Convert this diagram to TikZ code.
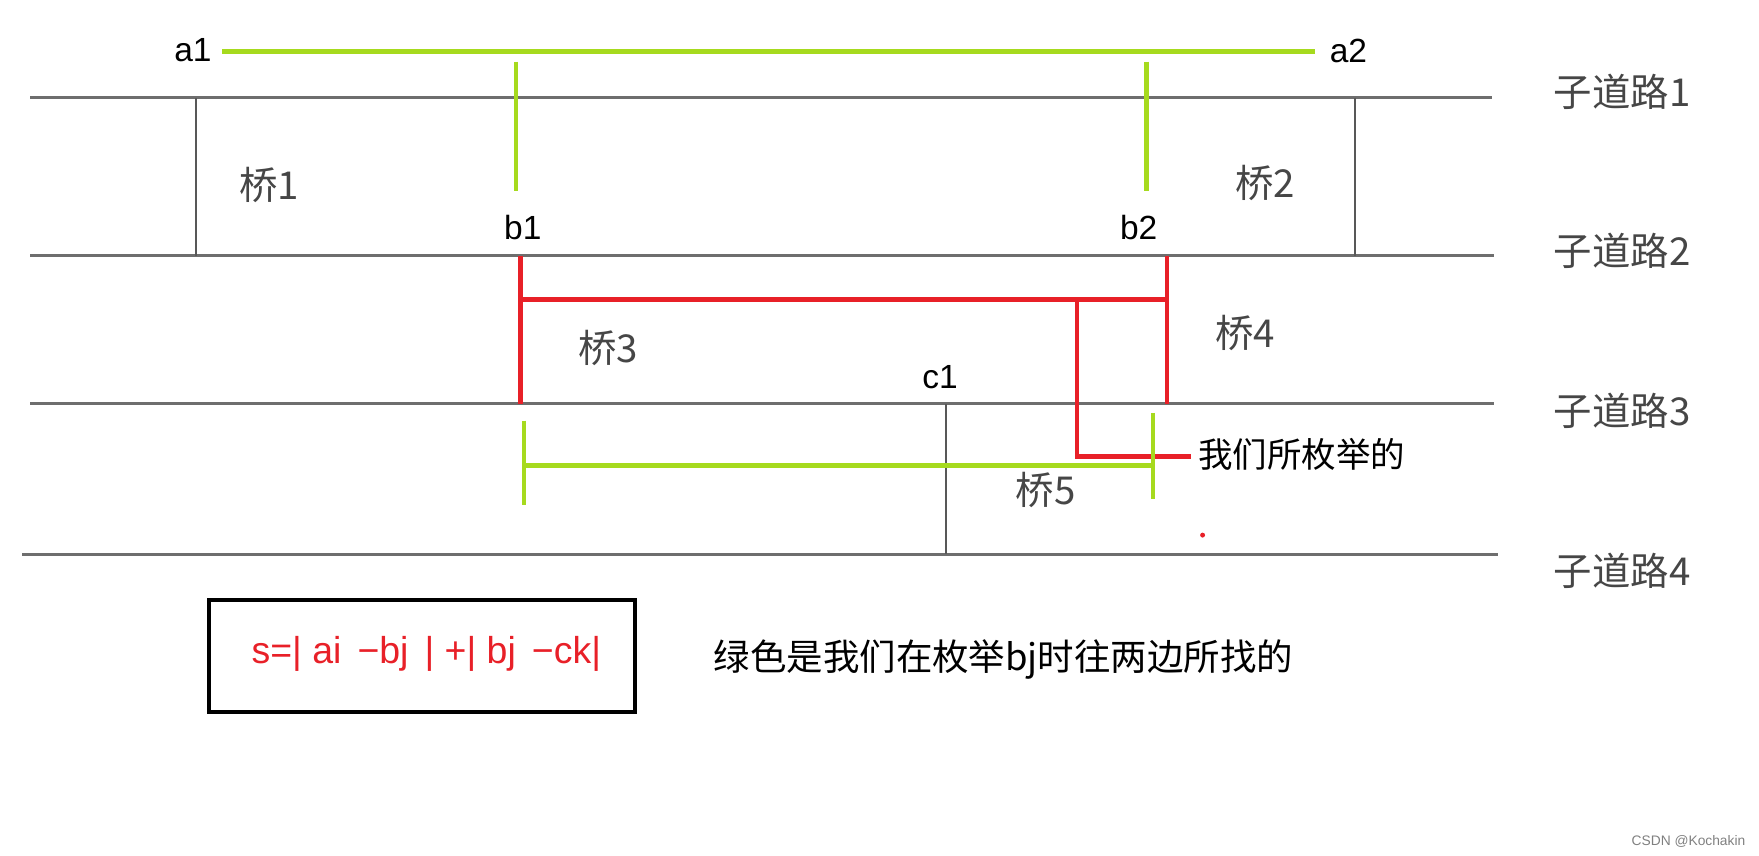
\documentclass[tikz,border=0pt]{standalone}
\usepackage{fontspec}
\setmainfont{Liberation Sans}
\newfontfamily\cjk{Noto Sans CJK SC}
\definecolor{lg}{RGB}{166,218,30}
\definecolor{rd}{RGB}{232,32,40}
\definecolor{rdg}{RGB}{110,110,110}
\definecolor{lbl}{RGB}{70,70,70}
\begin{document}
\begin{tikzpicture}[x=0.02cm,y=-0.02cm,
  road/.style={draw=rdg,line width=1.4pt},
  bridge/.style={draw=rdg!80!black,line width=0.9pt},
  gl/.style={draw=lg,line width=2.2pt},
  rl/.style={draw=rd,line width=2.2pt},
  lab/.style={font=\fontsize{17}{17}\selectfont},
  cl/.style={font=\cjk\fontsize{19.5}{19.5}\selectfont,text=lbl},
  tx/.style={font=\cjk\fontsize{17.5}{17.5}\selectfont}]
\useasboundingbox (0,0) rectangle (1568,763);
% roads
\coordinate (r1a) at (27,87); \coordinate (r1b) at (1330,87);
\coordinate (r2a) at (27,228); \coordinate (r2b) at (1332,228);
\coordinate (r3a) at (27,360); \coordinate (r3b) at (1332,360);
\coordinate (r4a) at (20,494); \coordinate (r4b) at (1335,494);
\draw[road] (r1a)--(r1b); \draw[road] (r2a)--(r2b);
\draw[road] (r3a)--(r3b); \draw[road] (r4a)--(r4b);
\node[cl] (l1) at (1446,82) {子道路1};
\node[cl] (l2) at (1446,224) {子道路2};
\node[cl] (l3) at (1446,366) {子道路3};
\node[cl] (l4) at (1446,509) {子道路4};
% bridges
\coordinate (b1t) at (175,87); \coordinate (b1b) at (175,228);
\draw[bridge] (b1t)--(b1b);
\coordinate (b2t) at (1208,87); \coordinate (b2b) at (1208,228);
\draw[bridge] (b2t)--(b2b);
\coordinate (b5t) at (843,360); \coordinate (b5b) at (843,494);
\draw[bridge] (b5t)--(b5b);
\node[cl] (q1) at (240,165) {桥1};
\node[cl] (q2) at (1128,163) {桥2};
\node[cl] (q3) at (542,310) {桥3};
\node[cl] (q4) at (1110,297) {桥4};
\node[cl] (q5) at (932,437) {桥5};
% labels
\node[lab] (a1) at (172,45) {a1};
\node[lab] (a2) at (1202,45) {a2};
\node[lab] (b1) at (466,203) {b1};
\node[lab] (b2) at (1015,203) {b2};
\node[lab] (c1) at (838,336) {c1};
% green top
\coordinate (ga) at (198,46); \coordinate (gb) at (1172,46);
\draw[gl] (ga)--(gb);
\coordinate (g1t) at (460,55); \coordinate (g1b) at (460,170);
\coordinate (g2t) at (1022,55); \coordinate (g2b) at (1022,170);
\draw[gl] (g1t)--(g1b); \draw[gl] (g2t)--(g2b);
% red
\coordinate (ra) at (464,228); \coordinate (rb) at (464,360);
\coordinate (rc) at (1040,228); \coordinate (rdd) at (1040,360);
\coordinate (rh1) at (464,267); \coordinate (rh2) at (1040,267);
\coordinate (rv1) at (960,265); \coordinate (rv2) at (960,407);
\coordinate (rh3) at (1062,407);
\draw[rl] (ra)--(rb); \draw[rl] (rc)--(rdd); \draw[rl] (rh1)--(rh2);
\draw[rl] (rv1)--(rv2)--(rh3);
\node[tx,anchor=west] (en) at (1062,405) {我们所枚举的};
\fill[rd] (1072,477) circle (2.2);
% green lower
\coordinate (h1t) at (467,375); \coordinate (h1b) at (467,450);
\coordinate (h2t) at (1028,368); \coordinate (h2b) at (1028,445);
\coordinate (hl) at (467,415); \coordinate (hr) at (1028,415);
\draw[gl] (h1t)--(h1b); \draw[gl] (h2t)--(h2b); \draw[gl] (hl)--(hr);
% box
\draw[black,line width=2pt] (186,535) rectangle (566,635);
\node[font=\fontsize{19}{19}\selectfont,text=rd] (box) at (380,583) {s=| ai $\,$−bj $\,$| +| bj $\,$−ck|};
\node[tx,anchor=west,font=\cjk\fontsize{18.5}{18.5}\selectfont] (note) at (630,588) {绿色是我们在枚举bj时往两边所找的};
\node[font=\fontsize{7}{7}\selectfont,text=gray,anchor=east] (csdn) at (1562,750) {CSDN @Kochakin};
\end{tikzpicture}
\end{document}
